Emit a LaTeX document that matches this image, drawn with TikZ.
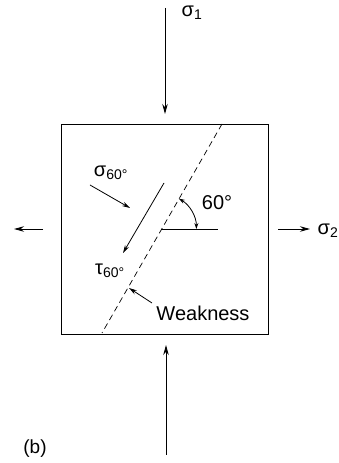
\documentclass[tikz,border=0pt]{standalone}
\usepackage{fontspec}
\setmainfont{Liberation Sans}
\usetikzlibrary{arrows.meta}
\tikzset{
  load/.style={-{Stealth[length=10pt,width=5.5pt]}, line width=0.9pt},
  small arrow/.style={-{Stealth[length=8pt,width=4.5pt]}, line width=0.8pt},
  lbl/.style={font=\fontsize{20}{24}\selectfont, inner sep=0pt},
}
\begin{document}
\begin{tikzpicture}[x=1pt,y=1pt]
\useasboundingbox (0,0) rectangle (339,463);
% specimen
\draw[line width=0.9pt] (61,129) rectangle (268,339);
% plane of weakness at 60 deg
\coordinate (wtop) at (222,339);
\coordinate (wbot) at (102,130);
\draw[dashed, dash pattern=on 6pt off 4pt, line width=0.7pt] (wtop) -- (wbot);
% principal stresses
\coordinate (s1a) at (165,455);
\coordinate (s1b) at (165,349);
\coordinate (s3a) at (166,8);
\coordinate (s3b) at (166,118);
\coordinate (s2la) at (43,234);
\coordinate (s2lb) at (14,234);
\coordinate (s2ra) at (278,234);
\coordinate (s2rb) at (310,234);
\draw[load] (s1a) -- (s1b);
\draw[load] (s3a) -- (s3b);
\draw[load] (s2la) -- (s2lb);
\draw[load] (s2ra) -- (s2rb);
\node[lbl] (sig1) at (192,450) {σ\textsubscript{1}};
\node[lbl] (sig2) at (328,232) {σ\textsubscript{2}};
% angle
\coordinate (o) at (161.4,234);
\coordinate (h) at (218,234);
\draw[line width=0.7pt] (o) -- (h);
\draw[{Stealth[length=6pt,width=4pt]}-{Stealth[length=6pt,width=4pt]}, line width=0.8pt]
  ([shift={(60:35)}]o) arc[start angle=60, end angle=0, radius=35];
\node[lbl] (ang) at (217,260) {60°};
% stresses on the plane
\coordinate (na) at (90,278);
\coordinate (nb) at (130,255);
\draw[small arrow] (na) -- (nb);
\node[lbl] (sn) at (111,290) {σ\textsubscript{60°}};
\coordinate (ta) at (164,280);
\coordinate (tb) at (123,210);
\draw[small arrow] (ta) -- (tb);
\node[lbl] (tn) at (110,192) {τ\textsubscript{60°}};
% weakness label
\node[lbl] (weak) at (203,150) {Weakness};
\coordinate (wa) at (152,160);
\coordinate (wb) at (129,175);
\draw[small arrow] (wa) -- (wb);
\node[lbl, font=\fontsize{19}{22}\selectfont] (b) at (35,14) {(b)};
\end{tikzpicture}
\end{document}
